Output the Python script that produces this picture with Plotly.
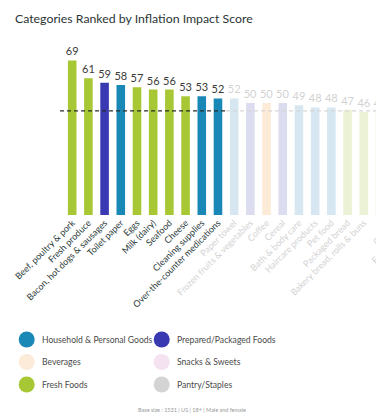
import plotly.graph_objects as go

# ---------------- data ----------------
categories = [
    "Beef, poultry & pork", "Fresh produce", "Bacon, hot dogs & sausages",
    "Toilet paper", "Eggs", "Milk (dairy)", "Seafood", "Cheese",
    "Cleaning supplies", "Over-the-counter medications", "Paper towel",
    "Frozen fruits & vegetables", "Coffee", "Cereal", "Bath & body care",
    "Haircare products", "Pet food", "Packaged bread",
    "Bakery bread, rolls & buns", "Wine & beer",
]
scores = [69, 61, 59, 58, 57, 56, 56, 53, 53, 52, 52, 50, 50, 50, 49, 48, 48, 47, 46, 46]
groups = [
    "Fresh Foods", "Fresh Foods", "Prepared/Packaged Foods",
    "Household & Personal Goods", "Fresh Foods", "Fresh Foods", "Fresh Foods",
    "Fresh Foods", "Household & Personal Goods", "Household & Personal Goods",
    "Household & Personal Goods", "Prepared/Packaged Foods", "Beverages",
    "Prepared/Packaged Foods", "Household & Personal Goods",
    "Household & Personal Goods", "Household & Personal Goods",
    "Fresh Foods", "Fresh Foods", "Beverages",
]
# categories continuing past the right edge (only their start is visible)
offscreen_categories = ["Candy", "Frozen meals", "Ice cream"]
top_n = 10
average_score = 46.5

legend_groups = [
    "Household & Personal Goods", "Prepared/Packaged Foods",
    "Beverages", "Snacks & Sweets",
    "Fresh Foods", "Pantry/Staples",
]
strong_colors = {
    "Household & Personal Goods": "#1a88b6",
    "Prepared/Packaged Foods": "#3939b2",
    "Beverages": "#fcebd9",
    "Snacks & Sweets": "#f4e2f1",
    "Fresh Foods": "#a7c834",
    "Pantry/Staples": "#d4d4d4",
}
faded_colors = {
    "Household & Personal Goods": "#d6e7f1",
    "Prepared/Packaged Foods": "#dcdcf0",
    "Beverages": "#fdebd8",
    "Snacks & Sweets": "#f6e8f4",
    "Fresh Foods": "#ebf2d6",
    "Pantry/Staples": "#ececec",
}

FONT = "Lato"
DARK_TXT = "#1f3838"
FADE_TXT = "#d2d2d2"

n = len(categories)
idx = list(range(n))
bar_colors = [strong_colors[g] if i < top_n else faded_colors[g] for i, g in enumerate(groups)]
val_colors = ["#3a3a3a" if i < top_n else FADE_TXT for i in idx]
tick_text = [
    f"<span style='color:{DARK_TXT if i < top_n else FADE_TXT}'>{c}</span>"
    for i, c in enumerate(categories)
]

# ---------------- layout geometry ----------------
# the page body has an 8px margin, so the figure is sized to fit the window
OFF = 8
W, H = 384 - OFF, 418 - OFF
ML, MR, MT, MB = 56 - OFF, 0, 40 - OFF, 203
x_range = [-1, 19.25]
y_range = [0, 78.1]
plot_w = W - ML - MR
plot_h = H - MT - MB


def px_x(px):
    """page pixel x -> paper fraction"""
    return (px - OFF - ML) / plot_w


def px_y(py):
    """page pixel y -> paper fraction"""
    return (H - MB - (py - OFF)) / plot_h


def idx_to_paper(i):
    return (i - x_range[0]) / (x_range[1] - x_range[0])


fig = go.Figure()
fig.add_trace(go.Bar(
    x=idx, y=scores,
    marker=dict(color=bar_colors, line=dict(width=0)),
    width=0.53,
    text=[str(s) for s in scores],
    textposition="outside",
    constraintext="none",
    textfont=dict(family=FONT, size=11, color=val_colors),
    cliponaxis=False,
    hoverinfo="skip",
    showlegend=False,
))

# average dashed line: dark across highlighted bars, faded after
fig.add_shape(type="line", xref="x", yref="y",
              x0=-0.75, x1=top_n - 0.5, y0=average_score, y1=average_score,
              line=dict(color="#2b2b2b", width=1.2, dash="4px,3px"))
fig.add_shape(type="line", xref="x", yref="y",
              x0=top_n - 0.5, x1=x_range[1], y0=average_score, y1=average_score,
              line=dict(color="#d6d6d6", width=1.2, dash="4px,3px"))

# partially visible labels of categories beyond the right edge
for k, c in enumerate(offscreen_categories):
    fig.add_annotation(
        xref="paper", yref="paper", x=idx_to_paper(n + k) + 0.012, y=px_y(218),
        text=c, textangle=-45, showarrow=False, xanchor="right", yanchor="top",
        font=dict(family=FONT, size=9, color=FADE_TXT),
    )

# custom legend (two columns, three rows)
col_x = [26.7, 161.7]
row_y = [339.5, 362, 384.5]
for k, g in enumerate(legend_groups):
    cx = col_x[k % 2]
    cy = row_y[k // 2]
    fig.add_shape(type="circle", xref="paper", yref="paper",
                  xsizemode="pixel", ysizemode="pixel",
                  xanchor=px_x(cx), yanchor=px_y(cy),
                  x0=-8, x1=8, y0=-8, y1=8,
                  fillcolor=strong_colors[g], line=dict(width=0))
    fig.add_annotation(xref="paper", yref="paper", x=px_x(cx + 13), y=px_y(cy),
                       text=g, showarrow=False, xanchor="left", yanchor="middle",
                       font=dict(family=FONT, size=8.6, color="#4a4a4a"))

fig.add_annotation(xref="paper", yref="paper", x=px_x(192), y=px_y(410),
                   text="Base size : 1531 | US | 18+ | Male and female",
                   showarrow=False, xanchor="center", yanchor="middle",
                   font=dict(family=FONT, size=5.5, color="#9a9a9a"))

fig.update_layout(
    width=W, height=H,
    margin=dict(l=ML, r=MR, t=MT, b=MB, autoexpand=False),
    paper_bgcolor="white", plot_bgcolor="white",
    title=dict(text="Categories Ranked by Inflation Impact Score",
               x=(15 - OFF) / W, xanchor="left", y=1 - (19 - OFF) / H, yanchor="middle",
               font=dict(family=FONT, size=12.3, color="#2a3434")),
    bargap=0.47,
    xaxis=dict(range=x_range, tickmode="array", tickvals=idx, ticktext=tick_text,
               tickangle=-45, ticks="", showgrid=False, zeroline=False,
               showline=False, tickfont=dict(family=FONT, size=9, color=DARK_TXT),
               fixedrange=True),
    yaxis=dict(range=y_range, visible=False, showgrid=False, zeroline=False,
               fixedrange=True),
    font=dict(family=FONT),
    showlegend=False,
)

fig.write_html("out.html")
